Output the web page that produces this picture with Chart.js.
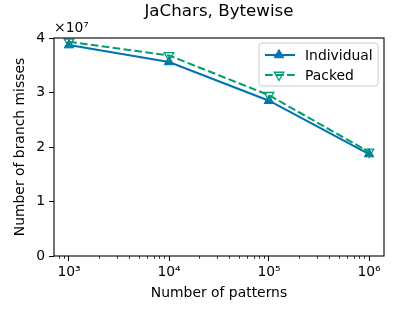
<!DOCTYPE html>
<html><head><meta charset="utf-8">
<script src="https://cdn.jsdelivr.net/npm/chart.js@4/dist/chart.umd.min.js"></script>
<style>html,body{margin:0;padding:0;background:#fff}#wrap{width:400px;height:320px}</style>
</head><body><div id="wrap"><canvas id="c" width="400" height="320"></canvas></div>
<script>
const patterns = [1e3, 1e4, 1e5, 1e6];
const individual = [3.87e7, 3.56e7, 2.85e7, 1.87e7];
const packed = [3.93e7, 3.68e7, 2.95e7, 1.91e7];
const xTickLabels = {1000: '10³', 10000: '10⁴', 100000: '10⁵', 1000000: '10⁶'};
const yTickValues = [0, 1e7, 2e7, 3e7, 4e7];
const seriesNames = ['Individual', 'Packed'];
const titleText = 'JaChars, Bytewise';
const xTitle = 'Number of patterns';
const yTitle = 'Number of branch misses';
const offsetText = '×10⁷';

const BLUE = '#0072B2', GREEN = '#009E73';
const FONT = "'DejaVu Sans', sans-serif";

const extras = {
  id: 'extras',
  afterDraw(chart) {
    const ctx = chart.ctx, a = chart.chartArea, xs = chart.scales.x;
    ctx.save();
    // minor ticks
    ctx.strokeStyle = '#000'; ctx.lineWidth = 0.8;
    for (let k = 2; k <= 6; k++) {
      for (let m = 2; m <= 9; m++) {
        const v = m * Math.pow(10, k);
        if (v < xs.min || v > xs.max) continue;
        const px = Math.round(xs.getPixelForValue(v)) + 0.5;
        ctx.beginPath(); ctx.moveTo(px, a.bottom); ctx.lineTo(px, a.bottom + 2.8); ctx.stroke();
      }
    }
    // frame
    ctx.lineWidth = 1.1; ctx.strokeStyle = '#000';
    ctx.strokeRect(a.left, a.top, a.right - a.left, a.bottom - a.top);
    // title
    ctx.fillStyle = '#000';
    ctx.textAlign = 'center'; ctx.textBaseline = 'middle';
    ctx.font = '16.7px ' + FONT;
    ctx.fillText(titleText, (a.left + a.right) / 2, 12);
    // axis titles
    ctx.font = '13.9px ' + FONT;
    ctx.fillText(xTitle, (a.left + a.right) / 2, 293);
    ctx.save();
    ctx.translate(20, (a.top + a.bottom) / 2);
    ctx.rotate(-Math.PI / 2);
    ctx.fillText(yTitle, 0, 0);
    ctx.restore();
    // offset text
    ctx.textAlign = 'left';
    ctx.font = '13.9px ' + FONT;
    ctx.fillText(offsetText, a.left, 28);
    // legend
    const lx = a.right - 125, ly = a.top + 5, lw = 119, lh = 43;
    ctx.beginPath();
    if (ctx.roundRect) ctx.roundRect(lx, ly, lw, lh, 3); else ctx.rect(lx, ly, lw, lh);
    ctx.fillStyle = 'rgba(255,255,255,0.8)'; ctx.fill();
    ctx.strokeStyle = '#cccccc'; ctx.lineWidth = 1; ctx.stroke();
    chart.data.datasets.forEach((ds, i) => {
      const cy = ly + 12 + i * 20;
      ctx.strokeStyle = ds.borderColor; ctx.lineWidth = 2.1;
      ctx.setLineDash(ds.borderDash || []);
      ctx.beginPath(); ctx.moveTo(lx + 6, cy); ctx.lineTo(lx + 36, cy); ctx.stroke();
      ctx.setLineDash([]);
      ctx.fillStyle = ds.pointBackgroundColor;
      ctx.strokeStyle = ds.pointBorderColor;
      ctx.lineWidth = ds.pointBorderWidth || 1;
      Chart.helpers.drawPoint(ctx, {
        pointStyle: 'triangle', rotation: ds.pointRotation || 0,
        radius: ds.pointRadius, borderWidth: ds.pointBorderWidth || 1
      }, lx + 20, cy);
      ctx.fillStyle = '#000'; ctx.font = '13.9px ' + FONT;
      ctx.textAlign = 'left'; ctx.textBaseline = 'middle';
      ctx.fillText(ds.label, lx + 46, cy + 1);
    });
    ctx.restore();
  }
};

new Chart(document.getElementById('c'), {
  type: 'line',
  data: {
    datasets: [
      {
        label: seriesNames[0],
        data: patterns.map((x, i) => ({x, y: individual[i]})),
        borderColor: BLUE, backgroundColor: BLUE,
        borderWidth: 2.1, pointStyle: 'triangle', pointRadius: 5.5,
        pointBackgroundColor: BLUE, pointBorderColor: BLUE, pointBorderWidth: 1,
        tension: 0, order: 2
      },
      {
        label: seriesNames[1],
        data: patterns.map((x, i) => ({x, y: packed[i]})),
        borderColor: GREEN, backgroundColor: 'rgba(0,0,0,0)',
        borderWidth: 2.1, borderDash: [7.7, 3.3], pointStyle: 'triangle', pointRotation: 180,
        pointRadius: 5.5, pointBackgroundColor: 'rgba(0,0,0,0)', pointBorderColor: GREEN,
        pointBorderWidth: 1.3, tension: 0, order: 1
      }
    ]
  },
  options: {
    responsive: false, animation: false,
    layout: {padding: {left: 0, right: 16, top: 38, bottom: 0}},
    plugins: {legend: {display: false}, title: {display: false}, tooltip: {enabled: false}},
    scales: {
      x: {
        type: 'logarithmic', min: Math.pow(10, 2.85), max: Math.pow(10, 6.15),
        afterBuildTicks: s => { s.ticks = patterns.map(v => ({value: v})); },
        afterFit: s => { s.height = 64; },
        ticks: {
          autoSkip: false, maxRotation: 0, color: '#000', padding: 3,
          font: {family: FONT, size: 13.9},
          callback: v => xTickLabels[v] || ''
        },
        grid: {drawOnChartArea: false, drawTicks: true, tickLength: 5, color: '#000', lineWidth: 1},
        border: {display: false}
      },
      y: {
        type: 'linear', min: 0, max: 4e7,
        afterBuildTicks: s => { s.ticks = yTickValues.map(v => ({value: v})); },
        afterFit: s => { s.width = 54; },
        ticks: {
          color: '#000', padding: 4, font: {family: FONT, size: 13.9},
          callback: v => String(v / 1e7)
        },
        grid: {drawOnChartArea: false, drawTicks: true, tickLength: 5, color: '#000', lineWidth: 1},
        border: {display: false}
      }
    }
  },
  plugins: [extras]
});
</script>
</body></html>
